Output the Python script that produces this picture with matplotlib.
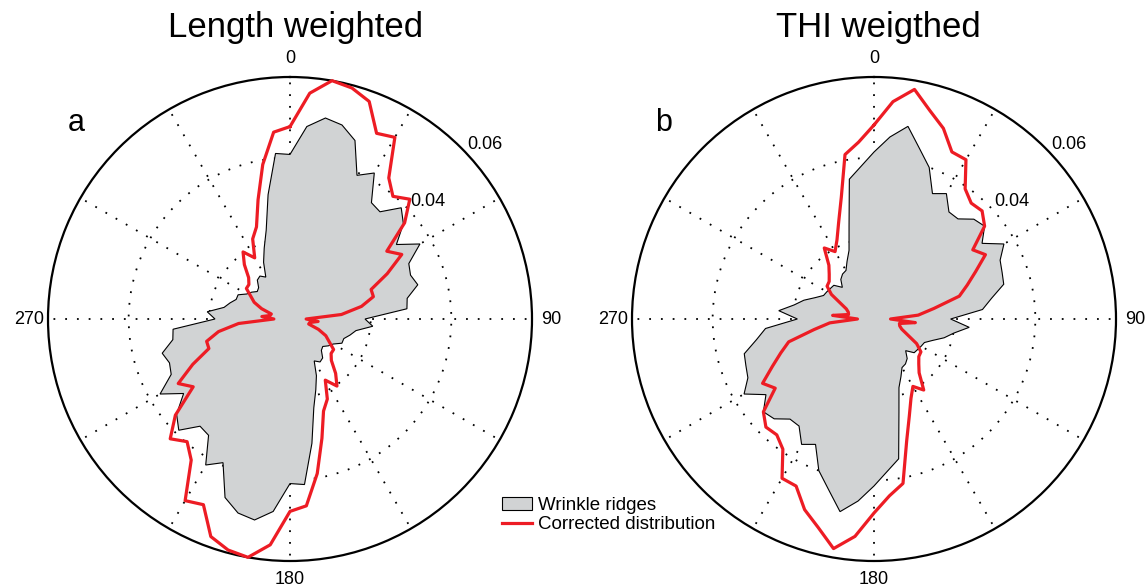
import numpy as np
import matplotlib
matplotlib.use('Agg')
import matplotlib.pyplot as plt
from matplotlib.patches import Patch
from matplotlib.lines import Line2D
import matplotlib.transforms as mtransforms

plt.rcParams['font.family'] = ['Liberation Sans', 'DejaVu Sans']

# bin azimuths (deg, clockwise from north) for one half-circle
azimuth = np.arange(0, 180, 5)

# length weighted frequencies
ridges_len = [0.0408, 0.0479, 0.0506, 0.0498, 0.0471, 0.0393, 0.0418, 0.0352, 0.0347,
              0.0390, 0.0367, 0.0322, 0.0372, 0.0325, 0.0318, 0.0328, 0.0295, 0.0291,
              0.0186, 0.0206, 0.0166, 0.0154, 0.0142, 0.0142, 0.0124, 0.0116, 0.0106,
              0.0110, 0.0126, 0.0130, 0.0120, 0.0155, 0.0187, 0.0228, 0.0313, 0.0412]
corr_len = [0.0477, 0.0562, 0.0600, 0.0593, 0.0574, 0.0508, 0.0520, 0.0427, 0.0397,
            0.0420, 0.0371, 0.0293, 0.0320, 0.0266, 0.0214, 0.0214, 0.0180, 0.0128,
            0.0040, 0.0070, 0.0050, 0.0048, 0.0075, 0.0098, 0.0112, 0.0132, 0.0133,
            0.0145, 0.0176, 0.0203, 0.0175, 0.0219, 0.0243, 0.0306, 0.0389, 0.0465]

# THI weighted frequencies
ridges_thi = [0.0414, 0.0453, 0.0485, 0.0437, 0.0400, 0.0343, 0.0359, 0.0324, 0.0324,
              0.0350, 0.0358, 0.0327, 0.0372, 0.0345, 0.0338, 0.0333, 0.0296, 0.0270,
              0.0190, 0.0237, 0.0201, 0.0180, 0.0155, 0.0138, 0.0135, 0.0132, 0.0130,
              0.0111, 0.0128, 0.0136, 0.0139, 0.0158, 0.0181, 0.0239, 0.0352, 0.0379]
corr_thi = [0.0481, 0.0541, 0.0578, 0.0535, 0.0503, 0.0457, 0.0456, 0.0394, 0.0375,
            0.0379, 0.0358, 0.0299, 0.0319, 0.0278, 0.0246, 0.0219, 0.0151, 0.0110,
            0.0041, 0.0103, 0.0064, 0.0066, 0.0073, 0.0091, 0.0122, 0.0142, 0.0145,
            0.0157, 0.0174, 0.0215, 0.0193, 0.0217, 0.0256, 0.0313, 0.0414, 0.0440]

titles = ['Length weighted', 'THI weigthed']
letters = ['a', 'b']
theta_labels = ['0', '', '', '90', '', '', '180', '', '', '270', '', '']
ring_labels = ['0.04', '0.06']
ring_values = [0.04, 0.06]

gray = '#d1d3d4'
red = '#ed1c24'


def rose(ax, ridges, corr, letter, letter_x):
    # orientations are axial: the second half-circle repeats the first
    th = np.radians(np.concatenate([azimuth, azimuth + 180, azimuth[:1]]))
    r_ridges = np.concatenate([ridges, ridges, ridges[:1]])
    r_corr = np.concatenate([corr, corr, corr[:1]])

    ax.set_theta_zero_location('N')
    ax.set_theta_direction(-1)
    ax.set_axisbelow(True)
    ax.fill(th, r_ridges, facecolor=gray, edgecolor='black', lw=0.8, zorder=2)
    ax.plot(th, r_corr, color=red, lw=2.3, clip_on=False, zorder=3)
    ax.set_ylim(0, 0.06)
    ax.set_rgrids([0.02, 0.04], labels=['', ''])
    ax.set_thetagrids(np.arange(0, 360, 30), labels=theta_labels, fontsize=13)
    ax.tick_params(axis='x', pad=3)
    ax.grid(True, color='black', linestyle=(0, (1, 5.5)), linewidth=1.3)
    ax.spines['polar'].set_linewidth(1.6)
    ax.spines['polar'].set_color('black')

    off = mtransforms.offset_copy(ax.transData, fig=ax.figure, x=6, y=3, units='dots')
    for v, lab in zip(ring_values, ring_labels):
        ax.text(np.radians(45), v, lab, transform=off, ha='left', va='center',
                fontsize=13, clip_on=False)
    ax.text(letter_x, 0.905, letter, transform=ax.transAxes, fontsize=22,
            ha='center', va='center')


fig = plt.figure(figsize=(11.48, 5.88), dpi=100)
W, H = 1148, 588
size = 484
ax_a = fig.add_axes([48 / W, (H - 561) / H, size / W, size / H], projection='polar')
ax_b = fig.add_axes([632 / W, (H - 561) / H, size / W, size / H], projection='polar')

rose(ax_a, ridges_len, corr_len, letters[0], 0.058)
rose(ax_b, ridges_thi, corr_thi, letters[1], 0.066)

fig.text(296 / W, 1 - 28 / H, titles[0], fontsize=25, ha='center', va='center')
fig.text(878 / W, 1 - 28 / H, titles[1], fontsize=25, ha='center', va='center')

handles = [Patch(facecolor=gray, edgecolor='black', lw=0.8),
           Line2D([], [], color=red, lw=2.3)]
fig.legend(handles, ['Wrinkle ridges', 'Corrected distribution'],
           loc='upper left', bbox_to_anchor=(502 / W, 1 - 497 / H),
           frameon=False, fontsize=13.5, borderpad=0, borderaxespad=0,
           handlelength=1.6, handleheight=0.7, handletextpad=0.3,
           labelspacing=0.1)

fig.savefig('out.png', dpi=100)
